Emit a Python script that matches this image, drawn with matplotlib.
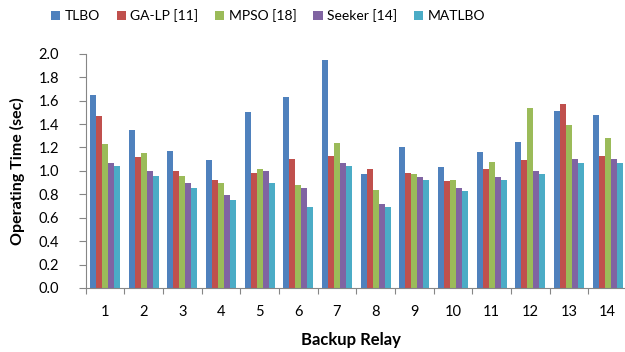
import matplotlib
matplotlib.use("Agg")
import matplotlib.pyplot as plt
import numpy as np

plt.rcParams['font.family'] = ['Lato', 'DejaVu Sans']

relays = ["1", "2", "3", "4", "5", "6", "7", "8", "9", "10", "11", "12", "13", "14"]
series_names = ["TLBO", "GA-LP [11]", "MPSO [18]", "Seeker [14]", "MATLBO"]

tlbo   = [1.65, 1.35, 1.17, 1.09, 1.50, 1.63, 1.95, 0.97, 1.20, 1.03, 1.16, 1.25, 1.51, 1.48]
ga_lp  = [1.47, 1.12, 1.00, 0.92, 0.98, 1.10, 1.13, 1.02, 0.98, 0.91, 1.02, 1.09, 1.57, 1.13]
mpso   = [1.23, 1.15, 0.96, 0.90, 1.02, 0.88, 1.24, 0.84, 0.97, 0.92, 1.08, 1.54, 1.39, 1.28]
seeker = [1.07, 1.00, 0.90, 0.79, 1.00, 0.85, 1.07, 0.72, 0.95, 0.85, 0.95, 1.00, 1.10, 1.10]
matlbo = [1.04, 0.96, 0.85, 0.75, 0.90, 0.69, 1.04, 0.69, 0.92, 0.83, 0.92, 0.97, 1.07, 1.07]

colors = ["#4F81BD", "#C0504D", "#9BBB59", "#8064A2", "#4BACC6"]
all_series = [tlbo, ga_lp, mpso, seeker, matlbo]

fig = plt.figure(figsize=(6.25, 3.52), dpi=100)
ax = fig.add_axes([0.137, 0.182, 0.866, 0.665])

x = np.arange(1, len(relays) + 1)
w = 0.155
for k, (vals, name, c) in enumerate(zip(all_series, series_names, colors)):
    ax.bar(x + (k - 2) * w, vals, width=w, color=c, label=name, linewidth=0)

ax.set_xlim(0.5, len(relays) + 0.5)
ax.set_ylim(0, 2.0)
yt = np.arange(0, 2.01, 0.2)
ax.set_yticks(yt)
ax.set_yticklabels([f"{v:.1f}" for v in yt], fontsize=10.5)

# tick marks between groups, labels at group centres
ax.set_xticks(np.arange(0.5, len(relays) + 1, 1.0))
ax.set_xticklabels([])
ax.set_xticks(x, minor=True)
ax.set_xticklabels(relays, minor=True, fontsize=10.5)
ax.tick_params(axis='x', which='minor', length=0, pad=12)
ax.tick_params(axis='x', which='major', length=4, color="#868686", direction='out')
ax.tick_params(axis='y', length=5, color="#868686", direction='out', pad=14)

for s in ["top", "right"]:
    ax.spines[s].set_visible(False)
for s in ["left", "bottom"]:
    ax.spines[s].set_color("#868686")

ax.set_ylabel("Operating Time (sec)", fontsize=11.5, fontweight='bold')
ax.yaxis.set_label_coords(-0.112, 0.5)
ax.set_xlabel("Backup Relay", fontsize=12, fontweight='bold')
ax.xaxis.set_label_coords(0.49, -0.19)

fig.legend(loc='center', bbox_to_anchor=(0.429, 0.955), ncol=5, frameon=False,
           fontsize=10, handlelength=0.65, handleheight=0.65, handletextpad=0.35,
           columnspacing=1.2)

fig.savefig("out.png", dpi=100)
